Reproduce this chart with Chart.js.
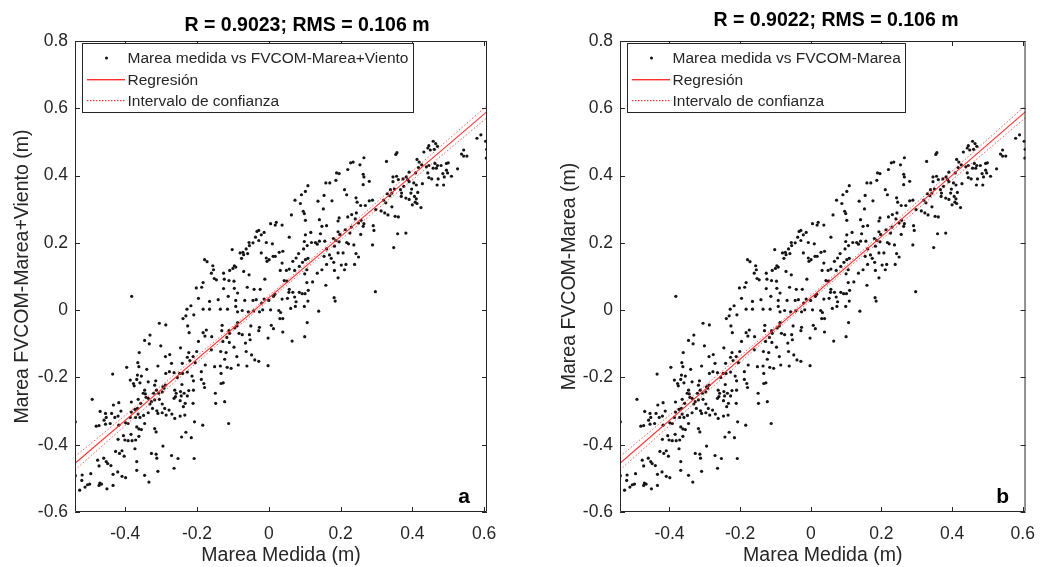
<!DOCTYPE html>
<html>
<head>
<meta charset="utf-8">
<script src="https://cdn.jsdelivr.net/npm/chart.js@4.4.0/dist/chart.umd.min.js"></script>
<style>
  html, body { margin: 0; padding: 0; background: #fff; }
  .panel { position: absolute; top: 0; height: 567px; }
  #pa { left: 0; width: 520px; }
  #pb { left: 520px; width: 527px; }
</style>
</head>
<body>
<div class="panel" id="pa"><canvas id="chartA"></canvas></div>
<div class="panel" id="pb"><canvas id="chartB"></canvas></div>
<script>
// ticks
const xTicks = [-0.4, -0.2, 0, 0.2, 0.4, 0.6];
const yTicks = [-0.6, -0.4, -0.2, 0, 0.2, 0.4, 0.6, 0.8];

// regression line and confidence band
const regX = [-0.54, 0.608];
const regY = [-0.455, 0.590];
const ciX  = [-0.54, -0.3, -0.1, 0.1, 0.3, 0.608];
const ciUp = [-0.435, -0.225, -0.048, 0.134, 0.320, 0.608];
const ciLo = [-0.475, -0.249, -0.062, 0.120, 0.298, 0.572];

// [marea medida, FVCOM-Marea+Viento]
const puntosA = [
  [-0.346,-0.090],[-0.333,-0.100],[-0.301,-0.106],[-0.246,-0.112],[-0.361,-0.126],[-0.288,-0.138],[-0.276,-0.132],[-0.223,-0.126],
  [-0.201,-0.123],[-0.196,-0.093],[-0.160,-0.118],[-0.134,-0.123],[-0.119,-0.126],[-0.110,-0.096],[-0.097,-0.110],[-0.128,-0.093],
  [-0.396,-0.170],[-0.365,-0.156],[-0.362,-0.168],[-0.309,-0.166],[-0.340,-0.176],[-0.271,-0.158],[-0.241,-0.158],[-0.227,-0.140],
  [-0.211,-0.138],[-0.220,-0.150],[-0.205,-0.156],[-0.177,-0.163],[-0.151,-0.168],[-0.135,-0.166],[-0.123,-0.146],[-0.116,-0.170],
  [-0.105,-0.173],[-0.435,-0.190],[-0.366,-0.193],[-0.368,-0.206],[-0.386,-0.208],[-0.377,-0.218],[-0.355,-0.196],[-0.336,-0.213],
  [-0.315,-0.210],[-0.287,-0.188],[-0.277,-0.183],[-0.264,-0.186],[-0.255,-0.200],[-0.248,-0.188],[-0.240,-0.188],[-0.227,-0.184],
  [-0.214,-0.196],[-0.210,-0.210],[-0.188,-0.183],[-0.188,-0.206],[-0.179,-0.230],[-0.133,-0.188],[-0.133,-0.218],[-0.127,-0.216],
  [-0.375,-0.225],[-0.359,-0.216],[-0.346,-0.238],[-0.344,-0.249],[-0.342,-0.259],[-0.318,-0.223],[-0.313,-0.238],[-0.307,-0.247],
  [-0.297,-0.243],[-0.295,-0.228],[-0.288,-0.223],[-0.292,-0.232],[-0.262,-0.238],[-0.258,-0.247],[-0.246,-0.242],[-0.242,-0.221],
  [-0.236,-0.247],[-0.227,-0.255],[-0.223,-0.239],[-0.210,-0.238],[-0.181,-0.218],[-0.149,-0.247],[-0.492,-0.265],[-0.433,-0.282],
  [-0.418,-0.275],[-0.383,-0.273],[-0.364,-0.265],[-0.357,-0.277],[-0.350,-0.247],[-0.336,-0.262],[-0.331,-0.279],[-0.327,-0.272],
  [-0.321,-0.247],[-0.324,-0.292],[-0.318,-0.267],[-0.312,-0.299],[-0.305,-0.265],[-0.297,-0.279],[-0.290,-0.292],[-0.278,-0.297],
  [-0.270,-0.309],[-0.264,-0.262],[-0.260,-0.257],[-0.247,-0.269],[-0.244,-0.255],[-0.238,-0.287],[-0.233,-0.277],[-0.211,-0.277],
  [-0.207,-0.332],[-0.184,-0.342],[-0.148,-0.277],[-0.123,-0.272],[-0.112,-0.337],[-0.470,-0.301],[-0.455,-0.307],[-0.453,-0.319],
  [-0.459,-0.327],[-0.438,-0.307],[-0.429,-0.319],[-0.420,-0.315],[-0.412,-0.300],[-0.383,-0.303],[-0.373,-0.295],[-0.366,-0.292],
  [-0.364,-0.309],[-0.371,-0.319],[-0.359,-0.319],[-0.349,-0.313],[-0.346,-0.337],[-0.336,-0.305],[-0.309,-0.307],[-0.297,-0.305],
  [-0.286,-0.312],[-0.262,-0.322],[-0.247,-0.315],[-0.234,-0.312],[-0.481,-0.345],[-0.473,-0.343],[-0.455,-0.339],[-0.442,-0.337],
  [-0.418,-0.342],[-0.399,-0.335],[-0.392,-0.337],[-0.386,-0.319],[-0.368,-0.347],[-0.362,-0.353],[-0.355,-0.355],[-0.318,-0.352],
  [-0.314,-0.362],[-0.231,-0.363],[-0.243,-0.377],[-0.216,-0.379],[-0.420,-0.384],[-0.405,-0.373],[-0.401,-0.386],[-0.392,-0.388],
  [-0.384,-0.369],[-0.381,-0.388],[-0.371,-0.386],[-0.362,-0.375],[-0.373,-0.412],[-0.295,-0.404],[-0.327,-0.426],[-0.314,-0.428],
  [-0.312,-0.440],[-0.271,-0.432],[-0.253,-0.441],[-0.208,-0.441],[-0.427,-0.420],[-0.416,-0.426],[-0.409,-0.418],[-0.403,-0.434],
  [-0.477,-0.446],[-0.460,-0.440],[-0.453,-0.450],[-0.449,-0.456],[-0.473,-0.463],[-0.440,-0.462],[-0.368,-0.450],[-0.368,-0.476],
  [-0.346,-0.491],[-0.309,-0.479],[-0.264,-0.470],[-0.520,-0.490],[-0.496,-0.486],[-0.421,-0.481],[-0.434,-0.488],[-0.409,-0.494],
  [-0.399,-0.498],[-0.521,-0.506],[-0.505,-0.519],[-0.499,-0.517],[-0.512,-0.526],[-0.527,-0.535],[-0.471,-0.514],[-0.466,-0.517],
  [-0.473,-0.521],[-0.451,-0.531],[-0.434,-0.521],[-0.334,-0.511],[-0.539,-0.492],[-0.539,-0.332],[-0.382,0.041],
  [0.073,0.327],[0.088,0.317],[0.096,0.294],[0.099,0.287],[0.102,0.267],[0.063,0.283],[0.005,0.257],[0.018,0.253],
  [0.021,0.261],[0.037,0.253],[0.057,0.217],[0.102,0.224],[0.099,0.204],[0.097,0.182],[0.107,0.192],[-0.033,0.234],
  [-0.028,0.237],[-0.021,0.224],[-0.013,0.231],[-0.037,0.217],[-0.028,0.207],[-0.007,0.201],[0.010,0.197],[-0.055,0.201],
  [-0.044,0.200],[-0.054,0.192],[-0.063,0.182],[-0.072,0.172],[-0.080,0.170],[-0.070,0.165],[-0.059,0.168],[-0.076,0.154],
  [-0.102,0.180],[-0.021,0.170],[-0.007,0.155],[0.001,0.150],[0.012,0.160],[0.018,0.160],[-0.005,0.145],[0.029,0.172],
  [0.039,0.175],[0.083,0.168],[0.076,0.155],[0.094,0.142],[0.109,0.154],[0.102,0.150],[0.037,0.140],[0.067,0.145],
  [0.032,0.118],[0.049,0.118],[0.057,0.122],[0.072,0.118],[0.085,0.130],[0.100,0.108],[0.106,0.120],[-0.179,0.150],
  [-0.172,0.144],[-0.156,0.132],[-0.154,0.120],[-0.096,0.132],[-0.092,0.128],[-0.100,0.124],[-0.109,0.118],[-0.126,0.110],
  [-0.160,0.110],[-0.146,0.090],[-0.152,0.094],[-0.124,0.092],[-0.111,0.088],[-0.070,0.115],[-0.055,0.105],[-0.097,0.086],
  [-0.183,0.082],[-0.187,0.068],[-0.202,0.066],[-0.126,0.064],[-0.096,0.065],[-0.060,0.068],[-0.041,0.062],[-0.024,0.062],
  [-0.011,0.092],[0.043,0.088],[0.050,0.086],[0.057,0.062],[0.056,0.053],[0.067,0.053],[0.085,0.053],[0.093,0.049],
  [0.101,0.049],[0.110,0.059],[-0.196,0.035],[-0.165,0.026],[-0.141,0.031],[-0.087,0.051],[-0.113,0.041],[-0.092,0.029],
  [-0.067,0.029],[-0.044,0.029],[-0.035,0.031],[-0.020,0.021],[-0.013,0.033],[0.000,0.029],[0.013,0.041],[0.017,0.047],
  [0.037,0.033],[0.052,0.035],[0.072,0.039],[0.076,0.025],[0.074,0.011],[0.099,0.011],[-0.217,0.013],[-0.228,0.003],
  [-0.231,-0.017],[-0.239,-0.025],[-0.209,-0.014],[-0.183,0.003],[-0.165,0.003],[-0.135,0.003],[-0.115,0.003],[-0.092,0.011],
  [-0.087,-0.005],[-0.074,-0.001],[-0.057,-0.005],[-0.042,-0.002],[-0.026,-0.005],[-0.017,0.001],[0.005,0.001],[0.028,-0.001],
  [0.033,-0.007],[0.061,0.005],[0.107,-0.037],[-0.305,-0.039],[-0.287,-0.044],[-0.226,-0.047],[-0.222,-0.067],[-0.174,-0.059],
  [-0.183,-0.067],[-0.178,-0.077],[-0.159,-0.079],[-0.130,-0.045],[-0.131,-0.061],[-0.111,-0.061],[-0.109,-0.069],[-0.117,-0.081],
  [-0.087,-0.037],[-0.089,-0.047],[-0.095,-0.053],[-0.083,-0.069],[-0.074,-0.073],[-0.054,-0.073],[-0.050,-0.047],[-0.026,-0.051],
  [-0.028,-0.061],[0.007,-0.045],[0.013,-0.055],[0.031,-0.025],[0.039,-0.025],[0.039,-0.065],[-0.002,-0.083],[0.065,-0.092],
  [0.100,-0.079],[-0.331,-0.074],[-0.065,-0.098],[-0.089,-0.138],[-0.063,-0.123],[-0.048,-0.133],[-0.039,-0.148],[-0.028,-0.152],
  [-0.002,-0.165],[-0.061,-0.166],[-0.085,-0.163],[-0.052,-0.088],
  [0.354,0.463],[0.357,0.468],[0.328,0.442],[0.265,0.453],[0.235,0.440],[0.228,0.438],[0.254,0.432],[0.220,0.418],
  [0.189,0.408],[0.196,0.406],[0.263,0.404],[0.265,0.396],[0.346,0.396],[0.356,0.398],[0.346,0.382],[0.361,0.388],
  [0.263,0.373],[0.280,0.383],[0.187,0.386],[0.159,0.378],[0.170,0.378],[0.109,0.370],[0.102,0.353],[0.091,0.343],
  [0.211,0.358],[0.217,0.343],[0.339,0.358],[0.350,0.360],[0.343,0.348],[0.330,0.346],[0.337,0.340],[0.137,0.324],
  [0.154,0.341],[0.176,0.325],[0.152,0.301],[0.243,0.334],[0.246,0.321],[0.256,0.311],[0.269,0.311],[0.280,0.325],
  [0.289,0.327],[0.298,0.299],[0.320,0.327],[0.326,0.319],[0.313,0.295],[0.323,0.289],[0.332,0.283],[0.343,0.307],
  [0.352,0.279],[0.361,0.277],[0.141,0.269],[0.148,0.249],[0.161,0.251],[0.196,0.274],[0.193,0.265],[0.220,0.277],
  [0.231,0.284],[0.244,0.289],[0.241,0.271],[0.250,0.259],[0.257,0.267],[0.265,0.257],[0.230,0.247],[0.213,0.239],
  [0.226,0.229],[0.193,0.233],[0.198,0.225],[0.180,0.213],[0.187,0.207],[0.156,0.205],[0.144,0.227],[0.141,0.205],
  [0.117,0.231],[0.119,0.201],[0.130,0.201],[0.135,0.196],[0.161,0.182],[0.183,0.190],[0.196,0.203],[0.217,0.201],
  [0.222,0.197],[0.237,0.194],[0.256,0.225],[0.263,0.249],[0.291,0.251],[0.293,0.237],[0.289,0.194],[0.359,0.227],
  [0.348,0.186],[0.154,0.160],[0.169,0.164],[0.174,0.154],[0.193,0.170],[0.207,0.170],[0.243,0.168],[0.250,0.158],
  [0.239,0.136],[0.215,0.136],[0.202,0.134],[0.181,0.142],[0.161,0.136],[0.148,0.120],[0.183,0.118],[0.211,0.120],
  [0.580,0.511],[0.591,0.521],[0.604,0.502],[0.607,0.478],[0.606,0.452],[0.446,0.489],[0.458,0.502],[0.465,0.495],
  [0.470,0.487],[0.443,0.482],[0.450,0.476],[0.461,0.478],[0.432,0.470],[0.413,0.448],[0.419,0.440],[0.426,0.432],
  [0.417,0.424],[0.439,0.426],[0.446,0.430],[0.463,0.436],[0.458,0.422],[0.467,0.422],[0.470,0.430],[0.480,0.430],
  [0.495,0.436],[0.500,0.438],[0.495,0.416],[0.498,0.408],[0.485,0.406],[0.489,0.396],[0.509,0.398],[0.526,0.420],
  [0.543,0.476],[0.537,0.464],[0.543,0.458],[0.552,0.458],[0.443,0.408],[0.446,0.394],[0.454,0.390],[0.469,0.372],
  [0.487,0.372],[0.472,0.390],[0.409,0.408],[0.391,0.410],[0.383,0.396],[0.387,0.388],[0.391,0.382],[0.374,0.390],
  [0.376,0.368],[0.398,0.360],[0.396,0.348],[0.406,0.338],[0.411,0.331],[0.408,0.321],[0.413,0.317],[0.400,0.313],
  [0.391,0.329],[0.382,0.333],[0.411,0.372],[0.404,0.378],[0.367,0.358],[0.370,0.348],[0.369,0.338],[0.424,0.305],
  [0.428,0.376],[0.415,0.350],[0.382,0.229],
  [0.122,0.084],[0.135,0.110],[0.159,0.074],[0.193,0.096],[0.182,0.037],[0.185,0.027],[0.139,-0.003],[0.297,0.055],
  [0.109,0.027],[0.106,0.082]
];
// [marea medida, FVCOM-Marea] – panel b looks the same as panel a
const puntosB = puntosA.map(p => p.slice());

const FONT = '"Liberation Sans", Arial, Helvetica, sans-serif';
const AXIS = '#262626';
const RED = '#ff3030';
const TICK = 5;

const fmt = v => (Math.abs(v) < 1e-9 ? '0' : v.toFixed(1));
const toXY = (xs, ys) => xs.map((x, i) => ({ x: x, y: ys[i] }));

// MATLAB-like box, inward ticks, legend, title and panel letter
const matlabLook = {
  id: 'matlabLook',
  afterDraw(chart, args, o) {
    const { ctx, chartArea: a, scales: { x, y } } = chart;
    ctx.save();
    ctx.strokeStyle = AXIS;
    ctx.lineWidth = 1;
    ctx.beginPath();
    ctx.rect(a.left + 0.5, a.top + 0.5, a.width - 1, a.height - 1);
    xTicks.forEach(v => {
      const px = Math.round(x.getPixelForValue(v)) + 0.5;
      ctx.moveTo(px, a.bottom); ctx.lineTo(px, a.bottom - TICK);
      ctx.moveTo(px, a.top); ctx.lineTo(px, a.top + TICK);
    });
    yTicks.forEach(v => {
      const py = Math.round(y.getPixelForValue(v)) + 0.5;
      ctx.moveTo(a.left, py); ctx.lineTo(a.left + TICK, py);
      ctx.moveTo(a.right, py); ctx.lineTo(a.right - TICK, py);
    });
    ctx.stroke();

    // legend box
    ctx.font = '15.5px ' + FONT;
    const tw = ctx.measureText(o.legend[0]).width;
    const bx = Math.round(a.left + 7) + 0.5, by = Math.round(a.top + 2) + 0.5;
    const bw = Math.round(tw + 50), bh = 69;
    ctx.fillStyle = '#fff';
    ctx.fillRect(bx, by, bw, bh);
    ctx.strokeStyle = AXIS;
    ctx.strokeRect(bx, by, bw, bh);
    const rows = [Math.round(by + 14), Math.round(by + 36), Math.round(by + 57)];
    // marker sample
    ctx.fillStyle = '#111';
    ctx.beginPath();
    ctx.arc(bx + 24, rows[0], 1.5, 0, Math.PI * 2);
    ctx.fill();
    // solid line sample
    ctx.fillStyle = RED;
    ctx.fillRect(Math.round(bx + 4), rows[1] - 1, 38, 1.4);
    // dotted line sample
    for (let k = 0; k < 38; k += 3) ctx.fillRect(Math.round(bx + 4) + k, rows[2] - 1, 1.4, 1.2);
    ctx.fillStyle = AXIS;
    ctx.textAlign = 'left';
    ctx.textBaseline = 'middle';
    o.legend.forEach((t, i) => ctx.fillText(t, bx + 45, rows[i] + 1));

    // title
    ctx.font = 'bold 19.5px ' + FONT;
    ctx.fillStyle = '#000';
    ctx.textAlign = 'center';
    ctx.textBaseline = 'alphabetic';
    ctx.fillText(o.title, o.titleX, o.titleY);

    // panel letter
    ctx.font = 'bold 21px ' + FONT;
    ctx.fillText(o.letter, a.right - 23, a.bottom - 9);
    ctx.restore();
  }
};

function makePanel(id, puntos, p) {
  return new Chart(document.getElementById(id), {
    type: 'scatter',
    data: {
      datasets: [
        {
          data: toXY(regX, regY), showLine: true, order: 0,
          borderColor: RED, borderWidth: 1.1, pointRadius: 0
        },
        {
          data: toXY(ciX, ciUp), showLine: true, order: 1,
          borderColor: 'rgba(255,40,40,0.75)', borderWidth: 1, borderDash: [1.5, 2], pointRadius: 0
        },
        {
          data: toXY(ciX, ciLo), showLine: true, order: 1,
          borderColor: 'rgba(255,40,40,0.75)', borderWidth: 1, borderDash: [1.5, 2], pointRadius: 0
        },
        {
          data: puntos.map(q => ({ x: q[0], y: q[1] })), order: 2,
          backgroundColor: '#151515', borderWidth: 0, pointRadius: 1.6
        }
      ]
    },
    options: {
      responsive: true,
      maintainAspectRatio: false,
      animation: false,
      events: [],
      layout: { padding: { top: 41, right: p.padRight, left: 0, bottom: 0 } },
      scales: {
        x: {
          type: 'linear', min: -0.54, max: 0.608,
          afterBuildTicks: s => { s.ticks = xTicks.map(v => ({ value: v })); },
          afterFit: s => { s.height = 55; },
          grid: { display: false, drawTicks: false },
          border: { display: false },
          ticks: { padding: 12, color: AXIS, font: { family: FONT, size: 17.5 }, callback: v => fmt(v) },
          title: { display: true, text: 'Marea Medida (m)', color: AXIS, font: { family: FONT, size: 19.5 }, padding: { top: 0, bottom: 0 } }
        },
        y: {
          type: 'linear', min: -0.6, max: 0.8,
          afterBuildTicks: s => { s.ticks = yTicks.map(v => ({ value: v })); },
          afterFit: s => { s.width = p.yWidth; },
          grid: { display: false, drawTicks: false },
          border: { display: false },
          ticks: { padding: 7, color: AXIS, font: { family: FONT, size: 17.5 }, callback: v => fmt(v) },
          title: { display: true, text: p.yTitle, color: AXIS, font: { family: FONT, size: 19.5 }, padding: { top: p.yTitlePad, bottom: 0 } }
        }
      },
      plugins: {
        legend: { display: false },
        tooltip: { enabled: false },
        matlabLook: { legend: p.legend, title: p.title, titleX: p.titleX, titleY: p.titleY, letter: p.letter }
      }
    },
    plugins: [matlabLook]
  });
}

makePanel('chartA', puntosA, {
  yWidth: 75, padRight: 33, yTitlePad: 11, yTitle: 'Marea FVCOM-Marea+Viento (m)',
  legend: ['Marea medida vs FVCOM-Marea+Viento', 'Regresión', 'Intervalo de confianza'],
  title: 'R = 0.9023; RMS = 0.106 m', titleX: 307, titleY: 31, letter: 'a'
});
makePanel('chartB', puntosB, {
  yWidth: 100, padRight: 17, yTitlePad: 38, yTitle: 'Marea FVCOM-Marea (m)',
  legend: ['Marea medida vs FVCOM-Marea', 'Regresión', 'Intervalo de confianza'],
  title: 'R = 0.9022; RMS = 0.106 m', titleX: 316, titleY: 26, letter: 'b'
});
</script>
</body>
</html>
